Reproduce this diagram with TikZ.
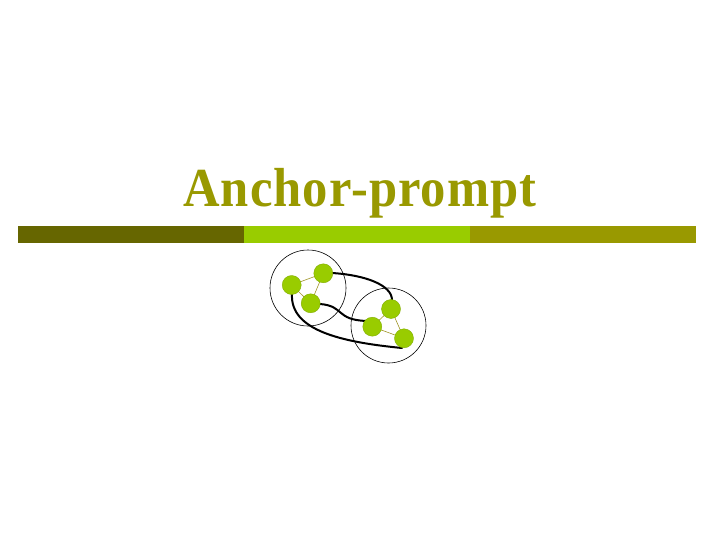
\documentclass[tikz,border=0pt]{standalone}
\usepackage{fontspec}
\setmainfont{Liberation Serif}
\definecolor{olivetxt}{RGB}{153,153,0}
\definecolor{darkolive}{RGB}{102,102,0}
\definecolor{lime}{RGB}{153,204,0}
\definecolor{edgeol}{RGB}{160,150,40}
\tikzset{
  dot/.style={circle,fill=lime,draw=lime!85!black,line width=0.4pt,minimum size=19pt,inner sep=0pt},
  ring/.style={circle,draw=black,line width=0.6pt,inner sep=0pt},
  thin edge/.style={draw=edgeol,line width=0.6pt},
  link/.style={draw=black,line width=2pt,line cap=round}
}
\begin{document}
\begin{tikzpicture}[x=1pt,y=-1pt]
\useasboundingbox (0,0) rectangle (720,540);
\fill[white] (0,0) rectangle (720,540);
% title
\node[anchor=base,text=olivetxt,inner sep=0pt,xscale=0.92] (title) at (360,207)
  {\fontsize{55}{60}\selectfont\bfseries\addfontfeature{LetterSpace=2.2}Anchor-prompt};
% bar
\fill[darkolive] (18,226) rectangle (244,243);
\fill[lime] (244,226) rectangle (470,243);
\fill[olivetxt] (470,226) rectangle (696,243);
% rings
\node[ring,minimum size=76pt] (r1) at (308,288) {};
\node[ring,minimum size=75pt] (r2) at (388.5,325.5) {};
% thin edges
\coordinate (pa) at (291.7,285);
\coordinate (pb) at (323.3,273.3);
\coordinate (pc) at (310.7,303.3);
\coordinate (pd) at (391,309);
\coordinate (pe) at (372.3,326.7);
\coordinate (pf) at (404,338.3);
\draw[thin edge] (pa) -- (pb) -- (pc) -- (pa);
\draw[thin edge] (pd) -- (pe) -- (pf) -- (pd);
% thick links
\draw[link] (332,273) .. controls (365,275) and (392,285) .. (392,300);
\draw[link] (320,304) .. controls (345,306) and (335,320) .. (367,321);
\draw[link] (292,294) .. controls (290,330) and (340,342) .. (402,348);
% dots
\node[dot] (a) at (pa) {};
\node[dot] (b) at (pb) {};
\node[dot] (c) at (pc) {};
\node[dot] (d) at (pd) {};
\node[dot] (e) at (pe) {};
\node[dot] (f) at (pf) {};
\end{tikzpicture}
\end{document}
